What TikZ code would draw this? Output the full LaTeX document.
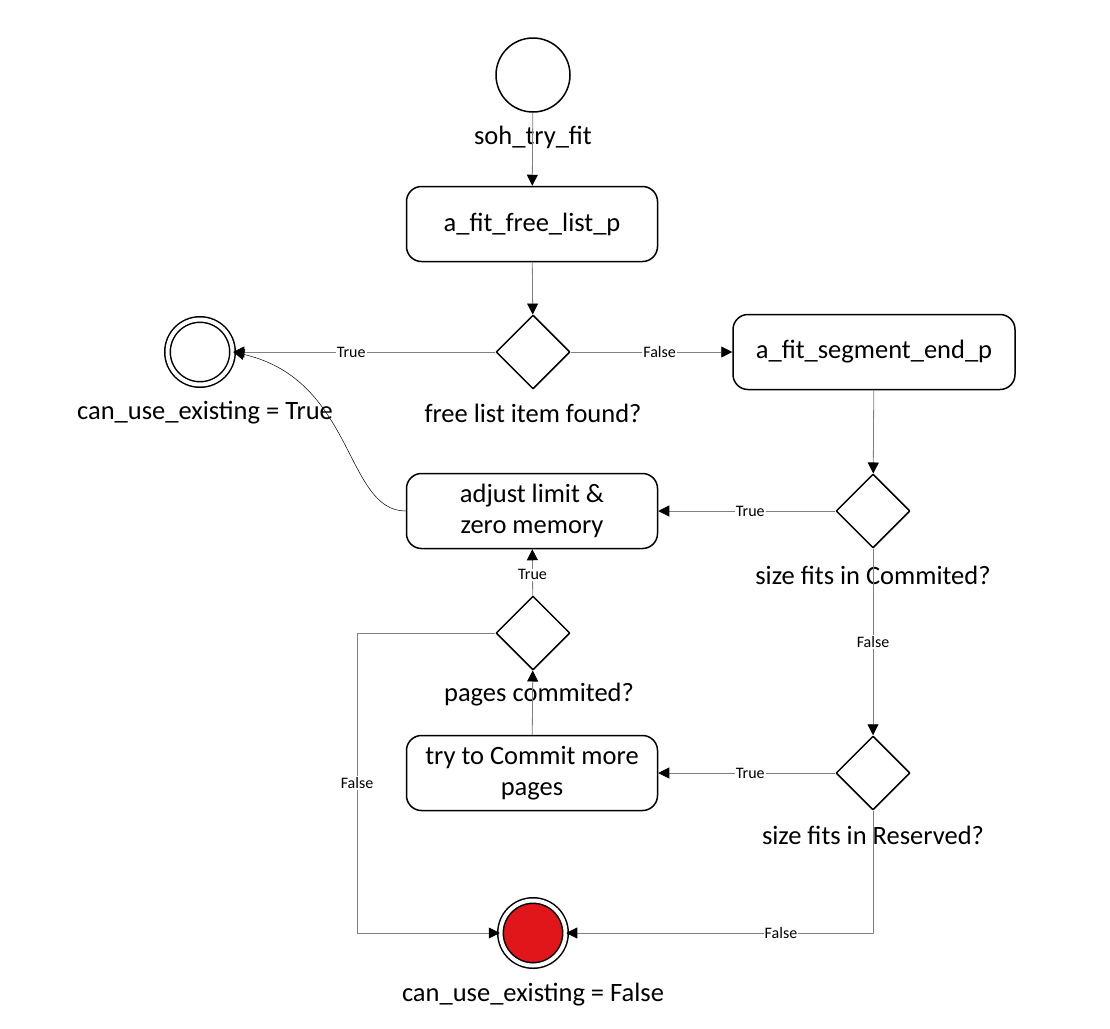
\documentclass[tikz,border=0pt]{standalone}
\usepackage{fontspec}
\setmainfont{Carlito}
\usetikzlibrary{arrows.meta,shapes.geometric}
\begin{document}
\begin{tikzpicture}[x=1pt,y=-1pt,line join=round,
	>={Triangle[length=11pt,width=11pt,black]},
	box/.style={draw,line width=1.5pt,rounded corners=15pt,minimum width=251pt,minimum height=75pt,align=center,font=\fontsize{26.5}{31}\selectfont},
	test/.style={draw,line width=1.5pt,diamond,minimum size=74pt,inner sep=0pt},
	state/.style={draw,line width=1.5pt,circle,minimum size=74pt,inner sep=0pt},
	final/.style={draw,line width=1.5pt,circle,double,double distance=4pt,minimum size=65pt,inner sep=0pt},
	txt/.style={font=\fontsize{26.5}{30}\selectfont},
	flow/.style={->,draw=black!50,line width=0.8pt},
	tag/.style={fill=white,inner sep=1pt,text=black,font=\fontsize{16}{18}\selectfont}]
	\useasboundingbox (0,0) rectangle (1110,1028);
	\node[state] (start) at (533,75) {};
	\node[txt] (startlbl) at (533,137) {soh\_try\_fit};
	\node[box] (freelist) at (532,224) {a\_fit\_free\_list\_p};
	\node[test] (found) at (533,352) {};
	\node[txt] (foundlbl) at (533,413) {free list item found?};
	\node[final] (endok) at (200,352) {};
	\node[txt] (endoklbl) at (205,413) {can\_use\_existing = True};
	\node[box,minimum width=282pt] (segend) at (874,352) {a\_fit\_segment\_end\_p};
	\node[test] (commit) at (873,511) {};
	\node[txt] (commitlbl) at (873,575) {size fits in Commited?};
	\node[box] (adjust) at (532,511) {adjust limit \&\\zero memory};
	\node[test] (pages) at (533,633) {};
	\node[txt] (pageslbl) at (539,695) {pages commited?};
	\node[box] (trymore) at (532,773) {try to Commit more\\pages};
	\node[test] (reserve) at (873,773) {};
	\node[txt] (reservelbl) at (873,835) {size fits in Reserved?};
	\node[final,fill={rgb,255:red,225;green,22;blue,27}] (endfail) at (533,933) {};
	\node[txt] (endfaillbl) at (533,995) {can\_use\_existing = False};
	\coordinate (pagesout) at (357,633);
	\coordinate (reserveout) at (873,933);
	\draw[flow] (start) -- (freelist);
	\draw[flow] (freelist) -- (found);
	\draw[flow] (found) -- node[tag,pos=0.55] {True} (endok);
	\draw[flow] (found) -- node[tag,pos=0.55] {False} (segend);
	\draw[flow] (segend) -- (commit);
	\draw[flow] (commit) -- node[tag,pos=0.48] {True} (adjust);
	\draw[flow] (commit) -- node[tag,pos=0.5] {False} (reserve);
	\draw[flow] (reserve) -- node[tag,pos=0.48] {True} (trymore);
	\draw[flow] (trymore) -- (pages);
	\draw[flow] (pages) -- node[tag,pos=0.45] {True} (adjust);
	\draw[flow] (pages.west) -- (pagesout) |- node[tag,pos=0.25] {False} (endfail);
	\draw[flow] (reserve.south) -- (reserveout) -- node[tag,pos=0.3] {False} (endfail);
	\draw[->,line width=0.5pt] (adjust.west) .. controls (345,511) and (355,380) .. (endok.east);
\end{tikzpicture}
\end{document}
